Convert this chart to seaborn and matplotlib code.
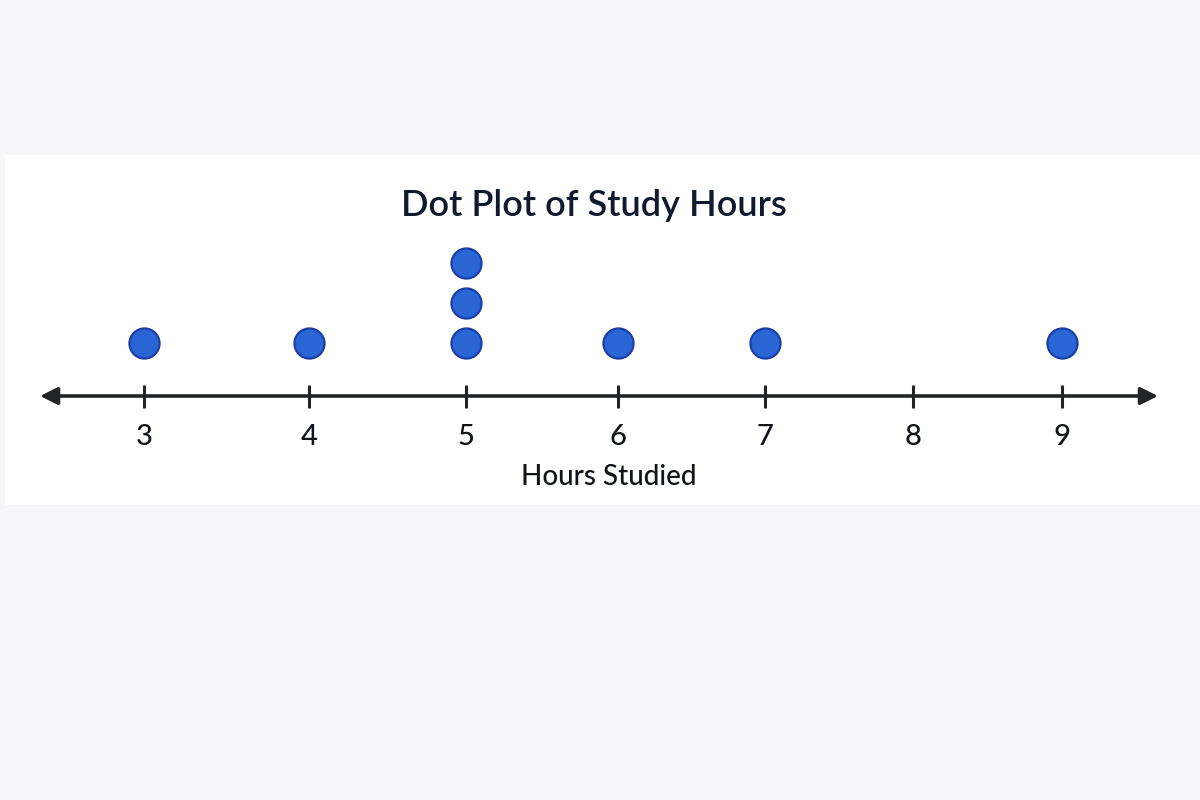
import matplotlib
matplotlib.use("Agg")
import matplotlib.pyplot as plt
import seaborn as sns
import pandas as pd
import numpy as np
from matplotlib.patches import Rectangle

# ---- data ----
hours = [3, 4, 5, 5, 5, 6, 7, 9]
tick_values = [3, 4, 5, 6, 7, 8, 9]
tick_labels = ["3", "4", "5", "6", "7", "8", "9"]
title = "Dot Plot of Study Hours"
xlabel = "Hours Studied"

# stack position of each dot (1 = first dot above the line)
levels = []
seen = {}
for h in hours:
    seen[h] = seen.get(h, 0) + 1
    levels.append(seen[h])
df = pd.DataFrame({"hours": hours, "level": levels})

# hand-drawn (slightly uneven) number-line spacing, as a scale transform
_anchor_v = np.array([2.0, 3, 4, 5, 6, 7, 8, 9, 10.0])
_anchor_p = np.array([-21.0, 144, 309, 466, 618, 765, 913, 1062, 1211.0])


def _fwd(x):
    return np.interp(x, _anchor_v, _anchor_p)


def _inv(p):
    return np.interp(p, _anchor_p, _anchor_v)


sns.set_theme(style="white")
plt.rcParams["font.family"] = ["Lato", "DejaVu Sans"]

fig = plt.figure(figsize=(12, 8), dpi=100)
fig.patch.set_facecolor("#f8f8fa")
band = Rectangle((0.004, 1 - 505 / 800), 0.996, 350 / 800,
                 transform=fig.transFigure, facecolor="white",
                 edgecolor="none", zorder=-10)
fig.patches.append(band)

ax = fig.add_axes([0, 0, 1, 1])
ax.set_zorder(5)
ax.set_facecolor("none")
ax.patch.set_alpha(0)
ax.set_xscale("function", functions=(_fwd, _inv))
ax.set_xlim(_inv(0.0), _inv(1200.0))
ax.set_ylim(-10.425, 9.575)
ax.axis("off")

ink = "#222426"
line_y = -0.325
ax.annotate("", xy=(float(_inv(40.0)), line_y), xytext=(float(_inv(1158.0)), line_y),
            arrowprops=dict(arrowstyle="<|-|>", color=ink, lw=2.6,
                            mutation_scale=26, shrinkA=0, shrinkB=0))
for tv, tl in zip(tick_values, tick_labels):
    ax.plot([tv, tv], [line_y + 0.28, line_y - 0.3], color=ink, lw=2.2,
            solid_capstyle="butt")
    ax.text(tv, line_y - 1.02, tl, ha="center", va="center", fontsize=21,
            fontweight="medium", color="#111418")

sns.scatterplot(data=df, x="hours", y="level", ax=ax, s=470,
                color="#2a65d6", edgecolor="#1c3fa6", linewidth=1.6,
                zorder=3, legend=False)

fig.text(0.495, 1 - 205 / 800, title, ha="center", va="center",
         fontsize=26, fontweight="semibold", color="#0f1a2e", zorder=6)
fig.text(0.507, 1 - 477 / 800, xlabel, ha="center", va="center",
         fontsize=20, fontweight="medium", color="#111418", zorder=6)

fig.savefig("out.png", dpi=100, facecolor=fig.get_facecolor())
